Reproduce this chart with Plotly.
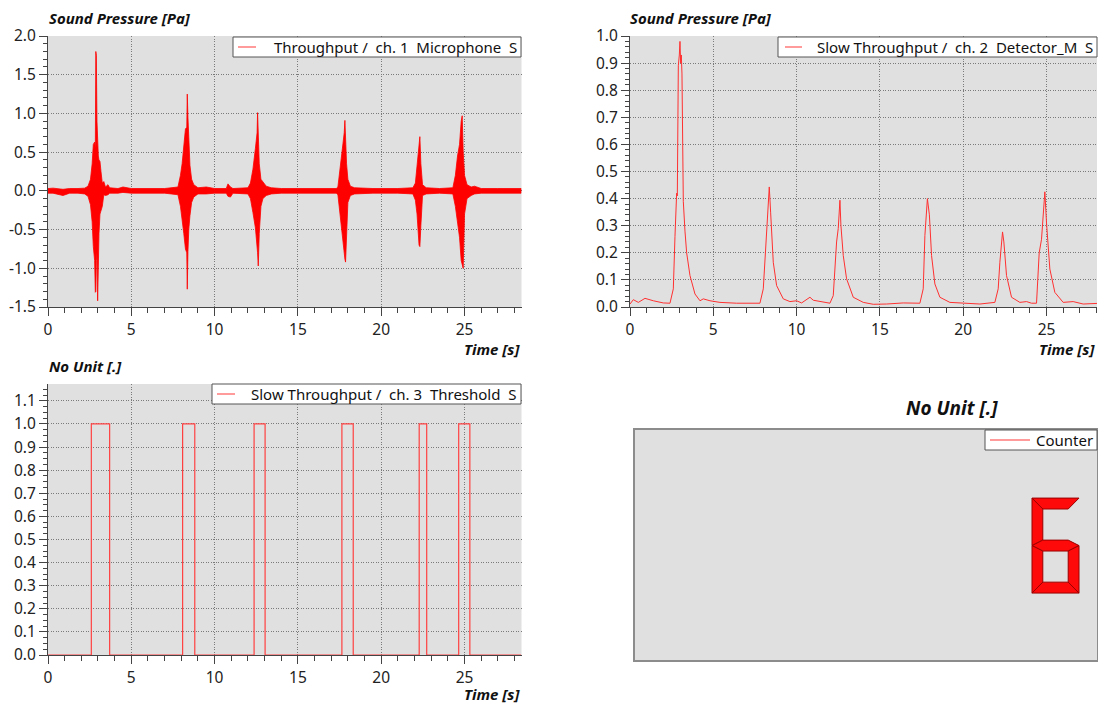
import plotly.graph_objects as go

# ---------------- data ----------------
# ch.1 Microphone: envelope (upper / lower) of the raw signal
ch1_t = [0.0, 0.3, 0.9, 1.3, 1.8, 2.2, 2.4, 2.55, 2.65, 2.72, 2.80, 2.84, 2.87, 2.90, 2.94, 2.98,
         3.02, 3.06, 3.12, 3.18, 3.26, 3.35, 3.45, 3.6, 3.7, 4.2, 4.5, 5.0, 6.0, 7.0, 7.8, 7.95,
         8.05, 8.15, 8.25, 8.33, 8.36, 8.40, 8.45, 8.52, 8.62, 8.75, 9.0, 9.5, 10.0, 10.7, 10.8,
         10.95, 11.1, 12.0, 12.15, 12.3, 12.45, 12.55, 12.58, 12.62, 12.68, 12.78, 12.9, 13.1,
         13.4, 14.0, 15.0, 16.0, 17.3, 17.4, 17.55, 17.68, 17.78, 17.82, 17.86, 17.92, 18.0,
         18.15, 18.4, 19.5, 21.0, 21.9, 22.05, 22.15, 22.27, 22.32, 22.38, 22.48, 22.7, 23.5,
         24.3, 24.45, 24.58, 24.7, 24.80, 24.86, 24.92, 25.0, 25.15, 25.4, 25.6, 26.0, 27.0, 28.4]
ch1_hi = [0.03, 0.035, 0.02, 0.03, 0.03, 0.035, 0.06, 0.15, 0.35, 0.60, 0.63, 0.55, 1.80, 1.75,
          0.90, 0.50, 0.45, 0.40, 0.38, 0.25, 0.10, 0.12, 0.05, 0.08, 0.04, 0.03, 0.05, 0.03,
          0.03, 0.03, 0.05, 0.20, 0.35, 0.60, 0.80, 0.82, 1.25, 0.95, 0.60, 0.33, 0.15, 0.08,
          0.04, 0.05, 0.03, 0.03, 0.09, 0.05, 0.03, 0.04, 0.10, 0.28, 0.55, 0.75, 1.01, 0.60,
          0.35, 0.15, 0.12, 0.06, 0.04, 0.03, 0.03, 0.03, 0.03, 0.05, 0.30, 0.58, 0.75, 0.91,
          0.60, 0.35, 0.15, 0.06, 0.04, 0.03, 0.03, 0.04, 0.10, 0.35, 0.68, 0.70, 0.35, 0.08,
          0.04, 0.03, 0.04, 0.20, 0.45, 0.60, 0.90, 0.97, 0.50, 0.20, 0.08, 0.05, 0.06, 0.03,
          0.03, 0.03]
ch1_lo = [-0.03, -0.03, -0.06, -0.03, -0.03, -0.04, -0.07, -0.18, -0.40, -0.72, -0.90, -1.31,
          -1.30, -0.90, -0.80, -1.42, -1.20, -0.55, -0.30, -0.25, -0.20, -0.05, -0.06, -0.05,
          -0.03, -0.03, -0.02, -0.03, -0.03, -0.03, -0.05, -0.20, -0.35, -0.55, -0.75, -0.80,
          -1.27, -0.78, -0.50, -0.32, -0.15, -0.08, -0.04, -0.04, -0.03, -0.03, -0.07, -0.08,
          -0.03, -0.04, -0.10, -0.28, -0.48, -0.70, -0.80, -0.97, -0.55, -0.20, -0.10, -0.06,
          -0.04, -0.03, -0.03, -0.03, -0.03, -0.05, -0.30, -0.55, -0.80, -0.88, -0.92, -0.50,
          -0.15, -0.06, -0.04, -0.03, -0.03, -0.04, -0.12, -0.30, -0.70, -0.72, -0.45, -0.06,
          -0.04, -0.03, -0.04, -0.20, -0.40, -0.60, -0.90, -0.95, -1.00, -0.30, -0.10, -0.06,
          -0.04, -0.03, -0.03, -0.03]

# ch.2 Detector_M (slow throughput)
ch2_t = [0.0, 0.2, 0.5, 0.9, 1.4, 2.0, 2.4, 2.6, 2.7, 2.8, 2.84, 2.9, 2.96, 3.0, 3.04, 3.08,
         3.12, 3.16, 3.2, 3.3, 3.4, 3.6, 3.9, 4.2, 4.4, 4.8, 5.4, 6.4, 7.8, 8.0, 8.15, 8.3,
         8.36, 8.44, 8.6, 8.8, 9.2, 9.6, 10.0, 10.3, 10.8, 11.0, 11.4, 12.0, 12.2, 12.4, 12.5,
         12.6, 12.66, 12.8, 13.0, 13.4, 14.0, 14.6, 15.4, 16.4, 17.4, 17.6, 17.7, 17.85, 17.97,
         18.1, 18.3, 18.6, 19.2, 20.0, 21.0, 21.9, 22.1, 22.2, 22.36, 22.44, 22.6, 22.9, 23.4,
         23.8, 24.1, 24.4, 24.56, 24.7, 24.8, 24.9, 25.0, 25.2, 25.5, 26.0, 26.6, 27.2, 28.3]
ch2_v = [0.011, 0.027, 0.017, 0.032, 0.023, 0.015, 0.014, 0.067, 0.26, 0.42, 0.41, 0.89, 0.93,
         0.98, 0.90, 0.93, 0.86, 0.60, 0.39, 0.28, 0.20, 0.116, 0.048, 0.023, 0.030, 0.023,
         0.017, 0.014, 0.014, 0.067, 0.24, 0.425, 0.443, 0.35, 0.165, 0.079, 0.030, 0.020,
         0.023, 0.015, 0.036, 0.025, 0.021, 0.014, 0.042, 0.24, 0.29, 0.394, 0.30, 0.19, 0.104,
         0.036, 0.017, 0.010, 0.011, 0.015, 0.014, 0.067, 0.264, 0.40, 0.34, 0.19, 0.085, 0.036,
         0.017, 0.014, 0.011, 0.017, 0.067, 0.165, 0.277, 0.24, 0.116, 0.036, 0.017, 0.020,
         0.014, 0.014, 0.20, 0.25, 0.34, 0.425, 0.31, 0.14, 0.054, 0.017, 0.020, 0.011, 0.014]

# ch.3 Threshold: pulse start / end times (value 1 inside, 0 outside)
pulse_start = [2.60, 8.08, 12.37, 17.64, 22.28, 24.65]
pulse_end = [3.70, 8.81, 13.03, 18.32, 22.73, 25.32]
t_end = 28.4

counter_value = 6

x_ticks = [0, 5, 10, 15, 20, 25]
y1_ticks = [-1.5, -1.0, -0.5, 0.0, 0.5, 1.0, 1.5, 2.0]

names = ['Throughput /\u00a0\u00a0ch. 1\u00a0\u00a0Microphone\u00a0\u00a0S',
         'Slow Throughput /\u00a0\u00a0ch. 2\u00a0\u00a0Detector_M\u00a0\u00a0S',
         'Slow Throughput /\u00a0\u00a0ch. 3\u00a0\u00a0Threshold\u00a0\u00a0S',
         'Counter']

# ---------------- derived traces ----------------
poly_x = ch1_t + ch1_t[::-1]
poly_y = ch1_hi + ch1_lo[::-1]

th_x, th_y = [0.0], [0.0]
for s, e in zip(pulse_start, pulse_end):
    th_x += [s, s, e, e]
    th_y += [0, 1, 1, 0]
th_x.append(t_end)
th_y.append(0)

# seven segment description
T = 0.23
SEG = {
    'a': [(0, 2), (1, 2), (1 - T, 2 - T), (T, 2 - T)],
    'b': [(1, 2), (1, 1), (1 - T, 1 + T / 2), (1 - T, 2 - T)],
    'c': [(1, 0), (1 - T, T), (1 - T, 1 - T / 2), (1, 1)],
    'd': [(0, 0), (T, T), (1 - T, T), (1, 0)],
    'e': [(0, 1), (T, 1 - T / 2), (T, T), (0, 0)],
    'f': [(0, 2), (T, 2 - T), (T, 1 + T / 2), (0, 1)],
    'g': [(0, 1), (T, 1 + T / 2), (1 - T, 1 + T / 2), (1, 1), (1 - T, 1 - T / 2), (T, 1 - T / 2)],
}
DIGITS = {0: 'abcdef', 1: 'bc', 2: 'abged', 3: 'abgcd', 4: 'fgbc', 5: 'afgcd',
          6: 'afgedc', 7: 'abc', 8: 'abcdefg', 9: 'abcdfg'}

# ---------------- figure ----------------
# the page body has an 8px margin: the figure starts at screen pixel (8, 8)
OFF = 8
W, H = 1106 - OFF, 704 - OFF
RIGHT = 1097  # last usable screen column
def px_x(p):
    return (p - OFF) / W
def px_y(p):
    return 1 - (p - OFF) / H

dom_x_left = [px_x(48), px_x(521.5)]
dom_x_right = [px_x(630), px_x(RIGHT)]
dom_y_top = [px_y(307), px_y(36)]
dom_y_bot = [px_y(655), px_y(384)]
PXU = (521.5 - 48) / 28.42          # pixels per second
range_right = (RIGHT - 630) / PXU

LEG_RED = '#ff7a7a'
fig = go.Figure()

fig.add_trace(go.Scatter(x=poly_x, y=poly_y, fill='toself', fillcolor='#ff0000',
                         mode='lines', line=dict(color='#ff0000', width=0.8), name=names[0],
                         showlegend=False, xaxis='x', yaxis='y', hoverinfo='skip'))
fig.add_trace(go.Scatter(x=ch2_t, y=ch2_v, mode='lines', line=dict(color='#ff3030', width=1),
                         name=names[1], showlegend=False, xaxis='x2', yaxis='y2'))
fig.add_trace(go.Scatter(x=th_x, y=th_y, mode='lines', line=dict(color='#ff4040', width=1.2),
                         name=names[2], showlegend=False, xaxis='x3', yaxis='y3'))

# seven segment digit inside the counter panel (axis 4 is a [0,1]x[0,1] box)
box_l, box_r = 635, RIGHT
dx0, dw = (1032 - box_l) / (box_r - box_l), 47 / (box_r - box_l)
dy0, dh = 0.291, 0.413
for seg in DIGITS[counter_value]:
    pts = SEG[seg]
    xs = [dx0 + p[0] * dw for p in pts] + [dx0 + pts[0][0] * dw]
    ys = [dy0 + p[1] * dh / 2 for p in pts] + [dy0 + pts[0][1] * dh / 2]
    fig.add_trace(go.Scatter(x=xs, y=ys, fill='toself', fillcolor='#ff0a0a', mode='lines',
                             line=dict(color='#9a0000', width=1), showlegend=False,
                             name=names[3], hoverinfo='skip', xaxis='x4', yaxis='y4'))

FONT = 'Noto Sans'
tickfont = dict(family=FONT, size=15.5, color='#222')
GRID = dict(showgrid=True, gridcolor='#7a7a7a', griddash='1px,1.5px', gridwidth=1)

def xax(domain, anchor, rng):
    return dict(domain=domain, anchor=anchor, range=rng, tickvals=x_ticks,
                ticks='outside', ticklen=8, tickcolor='#444', showline=True, linecolor='#444',
                linewidth=1, zeroline=False, tickfont=tickfont, automargin=False,
                minor=dict(dtick=1, ticks='outside', ticklen=5, tickcolor='#444', showgrid=False),
                **GRID)

def yax(domain, anchor, rng, dtick, mdtick):
    return dict(domain=domain, anchor=anchor, range=rng, dtick=dtick, tick0=0, tickformat='.1f',
                ticks='outside', ticklen=8, tickcolor='#444', showline=True, linecolor='#444',
                linewidth=1, zeroline=False, tickfont=tickfont, automargin=False,
                minor=dict(dtick=mdtick, tick0=0, ticks='outside', ticklen=4, tickcolor='#444',
                           showgrid=False),
                **GRID)

yaxis1 = yax(dom_y_top, 'x', [-1.5, 2.0], 0.5, 0.1)
yaxis1.update(tickmode='array', tickvals=y1_ticks, ticktext=[f'{v:.1f}' for v in y1_ticks])

fig.update_layout(
    template='none',
    width=W, height=H, margin=dict(l=0, r=0, t=0, b=0, pad=0, autoexpand=False),
    paper_bgcolor='white', plot_bgcolor='#e0e0e0', showlegend=False,
    xaxis=xax(dom_x_left, 'y', [0, 28.42]),
    yaxis=yaxis1,
    xaxis2=xax(dom_x_right, 'y2', [0, range_right]),
    yaxis2=yax(dom_y_top, 'x2', [0, 1.0], 0.1, 0.02),
    xaxis3=xax(dom_x_left, 'y3', [0, 28.42]),
    yaxis3=yax(dom_y_bot, 'x3', [0, 1.173], 0.1, 0.025),
    xaxis4=dict(domain=[px_x(box_l), px_x(box_r)], anchor='y4', range=[0, 1],
                showticklabels=False, ticks='', showgrid=False, zeroline=False, showline=True,
                mirror=True, linecolor='#8c8c8c', linewidth=1.5, automargin=False),
    yaxis4=dict(domain=[px_y(660), px_y(430)], anchor='x4', range=[0, 1], showticklabels=False,
                ticks='', showgrid=False, zeroline=False, showline=True, mirror=True,
                linecolor='#8c8c8c', linewidth=1.5, automargin=False),
)

# legend boxes (box left, box right, box top, sample line x0, x1)
legend_boxes = [
    (233, 521, 37, 238, 256),
    (778, RIGHT, 37, 785, 802),
    (212, 521, 384, 217, 235),
    (985, RIGHT, 430, 990, 1030),
]
BOX_H = 20
for name, (bl, br, bt, s0, s1) in zip(names, legend_boxes):
    fig.add_shape(type='rect', xref='paper', yref='paper', x0=px_x(bl), x1=px_x(br),
                  y0=px_y(bt + BOX_H), y1=px_y(bt), fillcolor='white',
                  line=dict(color='#555', width=1))
    fig.add_shape(type='line', xref='paper', yref='paper', x0=px_x(s0), x1=px_x(s1),
                  y0=px_y(bt + BOX_H / 2), y1=px_y(bt + BOX_H / 2),
                  line=dict(color=LEG_RED, width=1.5))
    fig.add_annotation(xref='paper', yref='paper', x=px_x(br - 2), y=px_y(bt + BOX_H / 2),
                       xanchor='right', yanchor='middle', showarrow=False, text=name,
                       font=dict(family=FONT, size=15, color='#111'))

title_font = dict(family=FONT, size=15, color='#111')
ann = [
    dict(text='<b><i>Sound Pressure [Pa]</i></b>', x=px_x(47), y=px_y(18), xanchor='left'),
    dict(text='<b><i>Sound Pressure [Pa]</i></b>', x=px_x(628), y=px_y(18), xanchor='left'),
    dict(text='<b><i>Time [s]</i></b>', x=px_x(522), y=px_y(349), xanchor='right'),
    dict(text='<b><i>Time [s]</i></b>', x=px_x(RIGHT), y=px_y(349), xanchor='right'),
    dict(text='<b><i>No Unit [.]</i></b>', x=px_x(47), y=px_y(366), xanchor='left'),
    dict(text='<b><i>Time [s]</i></b>', x=px_x(522), y=px_y(694), xanchor='right'),
]
for a in ann:
    fig.add_annotation(xref='paper', yref='paper', yanchor='middle', showarrow=False,
                       font=title_font, **a)
fig.add_annotation(xref='paper', yref='paper', x=px_x(952), y=px_y(408), xanchor='center',
                   yanchor='middle', showarrow=False, text='<b><i>No Unit [.]</i></b>',
                   font=dict(family=FONT, size=19, color='#111'))

fig.write_html('out.html')
